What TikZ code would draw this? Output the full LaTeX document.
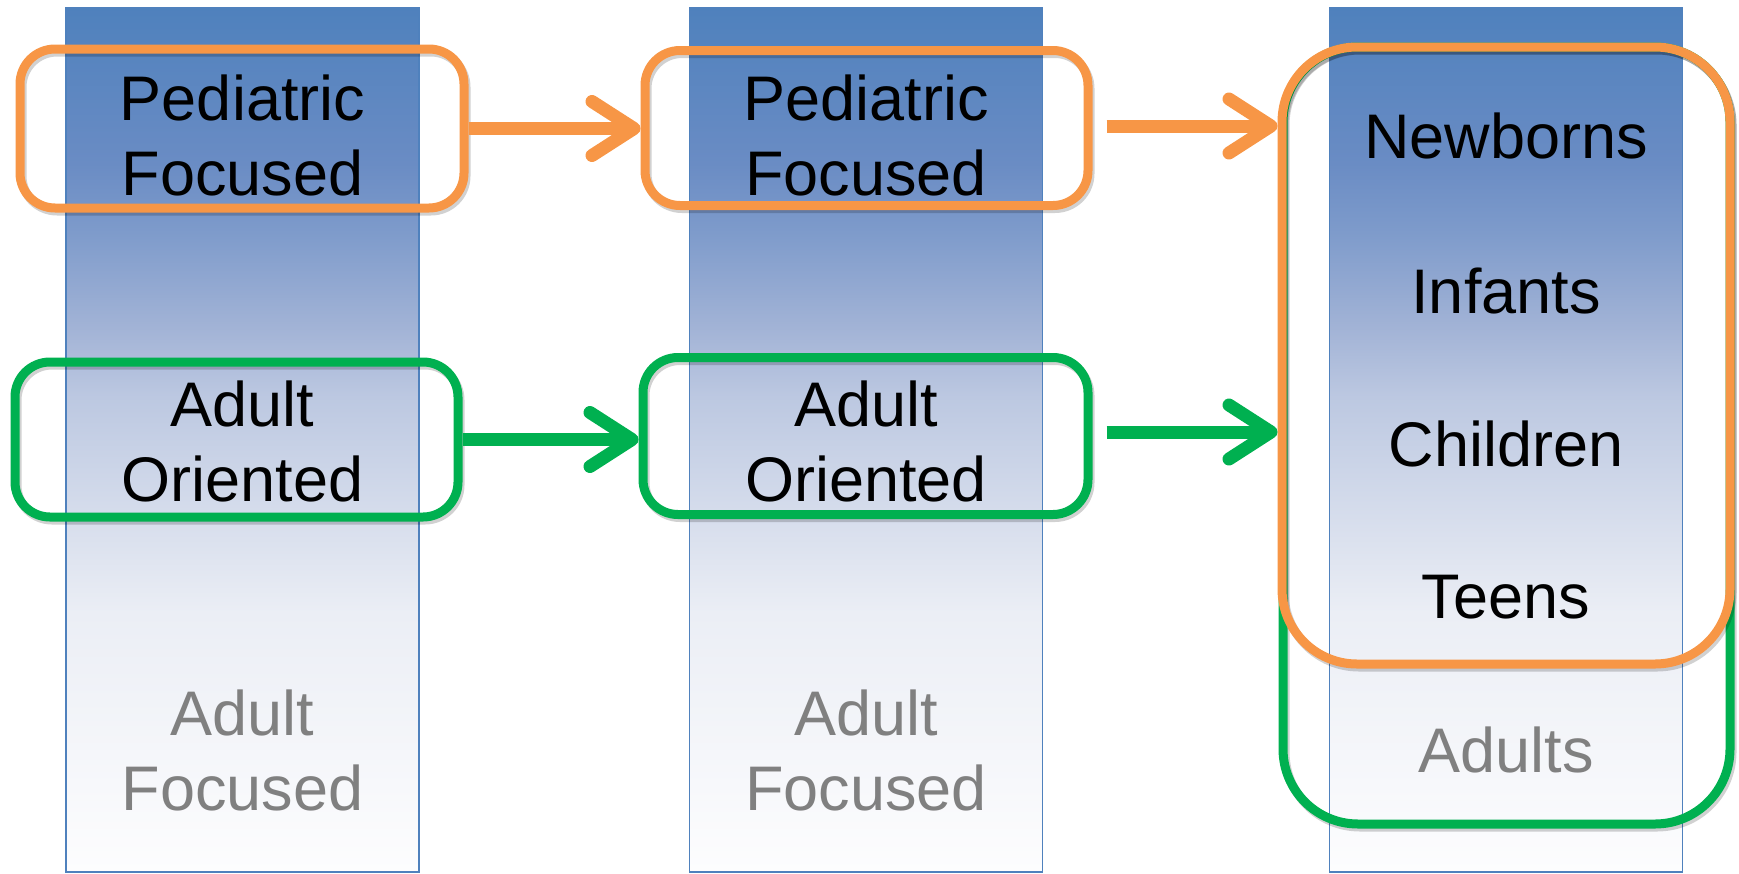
\documentclass[tikz,border=0pt]{standalone}
\usepackage{fontspec}
\setmainfont{Liberation Sans}
\usetikzlibrary{arrows.meta,calc}
\definecolor{cblue}{HTML}{4F81BD}
\definecolor{corange}{HTML}{F79646}
\definecolor{cgreen}{HTML}{00B050}
\definecolor{cgray}{HTML}{808080}
\definecolor{cb0}{HTML}{FDFDFE}
\definecolor{cb1}{HTML}{EBEEF5}
\definecolor{cb2}{HTML}{BCC8E1}
\definecolor{cb3}{HTML}{A2B3D6}
\definecolor{cb4}{HTML}{7E9BCB}
\definecolor{cb5}{HTML}{6A8CC4}
\pgfdeclareverticalshading{colgrad}{100bp}{color(0bp)=(cb0); color(25bp)=(cb0); color(40bp)=(cb1); color(52.5bp)=(cb2); color(56.5bp)=(cb3); color(62bp)=(cb4); color(66bp)=(cb5); color(75bp)=(cblue); color(100bp)=(cblue)}
\begin{document}
\begin{tikzpicture}[x=1pt,y=-1pt,
  column/.style={shading=colgrad, draw=cblue, line width=1.5pt, minimum width=353pt, minimum height=864pt, inner sep=0pt, outer sep=0pt},
  shade box/.style={preaction={draw=black, opacity=0.18, line width=9pt, transform canvas={shift={(2pt,-3pt)}}}},
  obox/.style={draw=corange, line width=9pt, rounded corners=35pt, inner sep=0pt, shade box},
  gbox/.style={draw=cgreen, line width=9pt, rounded corners=35pt, inner sep=0pt, shade box},
  txt/.style={font=\fontsize{63}{75}\selectfont, align=center, inner sep=0pt, anchor=base},
  gtxt/.style={txt, text=cgray},
  arr/.style={line width=13pt, -{Straight Barb[length=42pt, width=54pt, line width=13pt, round]}},
  oarrow/.style={arr, draw=corange},
  garrow/.style={arr, draw=cgreen}]
\useasboundingbox (0,0) rectangle (1739,873);
% columns
\node[column] (c1) at (242.5,440) {};
\node[column] (c2) at (866,440) {};
\node[column] (c3) at (1506,440) {};
% column texts (anchor = baseline of last line)
\node[txt] (t1a) at (242.5,195) {Pediatric\\Focused};
\node[txt] (t1b) at (242.5,501) {Adult\\Oriented};
\node[gtxt] (t1c) at (242.5,810) {Adult\\Focused};
\node[txt] (t2a) at (866,195) {Pediatric\\Focused};
\node[txt] (t2b) at (866,501) {Adult\\Oriented};
\node[gtxt] (t2c) at (866,810) {Adult\\Focused};
\node[txt] (t3a) at (1506,158) {Newborns};
\node[txt] (t3b) at (1506,313) {Infants};
\node[txt] (t3c) at (1506,466) {Children};
\node[txt] (t3d) at (1506,618) {Teens};
\node[gtxt] (t3e) at (1506,772) {Adults};
% boxes
\node[obox, minimum width=444pt, minimum height=159pt] (p1) at (242,128.5) {};
\node[obox, minimum width=443pt, minimum height=155pt] (p2) at (866.5,128) {};
\node[gbox, minimum width=443pt, minimum height=155pt] (g1) at (236.5,439.5) {};
\node[gbox, minimum width=445pt, minimum height=157pt] (g2) at (865.5,436) {};
\node[gbox, minimum width=447pt, minimum height=777pt, rounded corners=75pt] (g3) at (1506.5,435.5) {};
\node[obox, minimum width=448pt, minimum height=617pt, rounded corners=75pt] (b3) at (1506,355.5) {};
% arrows
\draw[oarrow] (p1.east) -- (p1.east -| p2.west);
\draw[oarrow] ([xshift=14pt, yshift=2pt]p2.east) -- ([yshift=2pt]p2.east -| b3.west);
\draw[garrow] (g1.east) -- (g1.east -| g2.west);
\draw[garrow] ([xshift=14pt, yshift=4pt]g2.east) -- ([yshift=4pt]g2.east -| b3.west);
\end{tikzpicture}
\end{document}
